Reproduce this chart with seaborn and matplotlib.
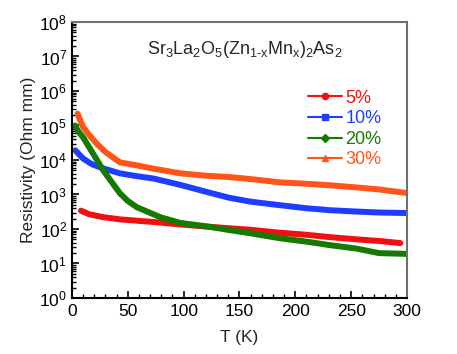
import numpy as np
import pandas as pd
import matplotlib
matplotlib.use("Agg")
import matplotlib.pyplot as plt
import seaborn as sns
from matplotlib.lines import Line2D
from matplotlib.ticker import LogLocator, MultipleLocator, NullFormatter

# ---- data ----
T_5 = [8, 15, 28, 43, 60, 73, 97, 120, 141, 160, 186, 210, 231, 255, 275, 294]
R_5 = [340, 270, 220, 190, 172, 160, 135, 118, 105, 95, 78, 68, 58, 50, 45, 39]

T_10 = [3, 6, 10, 18, 28, 43, 58, 73, 97, 120, 141, 160, 186, 210, 231, 255, 275, 300]
R_10 = [19000, 15000, 11000, 7500, 5700, 4100, 3400, 2900, 1900, 1200, 800, 620, 490, 400, 350, 320, 300, 290]

T_20 = [2.7, 6, 10, 18, 28, 36, 43, 50, 58, 79, 97, 120, 141, 160, 186, 210, 231, 255, 275, 300]
R_20 = [100000, 65000, 45000, 17000, 5000, 2200, 1080, 650, 430, 220, 150, 120, 93, 75, 54, 43, 34, 27, 20, 19]

T_30 = [5, 7, 10, 15, 22, 30, 43, 58, 73, 97, 120, 141, 160, 186, 210, 231, 255, 275, 300]
R_30 = [220000, 150000, 90000, 55000, 30000, 17000, 8500, 7000, 5600, 4100, 3500, 3200, 2800, 2250, 2050, 1850, 1600, 1400, 1100]

labels = ["5%", "10%", "20%", "30%"]
colors = ["#ee1111", "#1f3dff", "#177a00", "#ff5518"]
markers = ["o", "s", "D", "^"]

series = [(T_5, R_5), (T_10, R_10), (T_20, R_20), (T_30, R_30)]
frames = []
for lab, (t, r) in zip(labels, series):
    frames.append(pd.DataFrame({"T": t, "R": r, "x": lab}))
df = pd.concat(frames, ignore_index=True)

sns.set_style("ticks")
plt.rcParams["font.family"] = ["Liberation Sans", "DejaVu Sans"]
plt.rcParams["mathtext.fontset"] = "custom"
plt.rcParams["mathtext.rm"] = "Liberation Sans"
plt.rcParams["mathtext.it"] = "Liberation Sans"
plt.rcParams["mathtext.default"] = "regular"

fig = plt.figure(figsize=(4.57, 3.54), dpi=100)
ax = fig.add_axes([0.1575, 0.1582, 0.7331, 0.7797])

sns.lineplot(data=df, x="T", y="R", hue="x", palette=dict(zip(labels, colors)),
             linewidth=4.3, legend=False, ax=ax, sort=False, estimator=None)

ax.set_yscale("log")
ax.set_ylim(1, 1e8)
ax.set_xlim(0, 300)
ax.yaxis.set_major_locator(LogLocator(base=10, numticks=20))
ax.yaxis.set_minor_locator(LogLocator(base=10, subs=np.arange(2, 10), numticks=20))
ax.yaxis.set_minor_formatter(NullFormatter())
ax.xaxis.set_major_locator(MultipleLocator(50))
ax.xaxis.set_minor_locator(MultipleLocator(10))
ax.tick_params(which="both", direction="in", labelsize=12.5, colors="black")
ax.tick_params(which="major", length=5, width=1.2)
ax.tick_params(which="minor", length=3, width=1.0)
ax.tick_params(axis="x", pad=4)

for s in ["left", "bottom"]:
    ax.spines[s].set_color("black")
    ax.spines[s].set_linewidth(1.5)
for s in ["top", "right"]:
    ax.spines[s].set_color("#707070")
    ax.spines[s].set_linewidth(1.5)

ax.set_xlabel("T (K)", fontsize=12.5, labelpad=8)
ax.set_ylabel("Resistivity (Ohm mm)", fontsize=12.5, labelpad=2)

ax.text(0.516, 0.90, r"Sr$_3$La$_2$O$_5$(Zn$_{1\text{-}x}$Mn$_x$)$_2$As$_2$",
        transform=ax.transAxes, ha="center", va="center", fontsize=13)

handles = [Line2D([0], [0], color=c, marker=m, markersize=4.5, lw=1.5)
           for c, m in zip(colors, markers)]
leg = ax.legend(handles, labels, loc="upper left", bbox_to_anchor=(0.705, 0.755),
                frameon=False, fontsize=13, handlelength=1.9, handletextpad=0.15,
                labelspacing=0.2, borderpad=0, borderaxespad=0)
for txt, c in zip(leg.get_texts(), colors):
    txt.set_color(c)

fig.savefig("out.png", dpi=100)
